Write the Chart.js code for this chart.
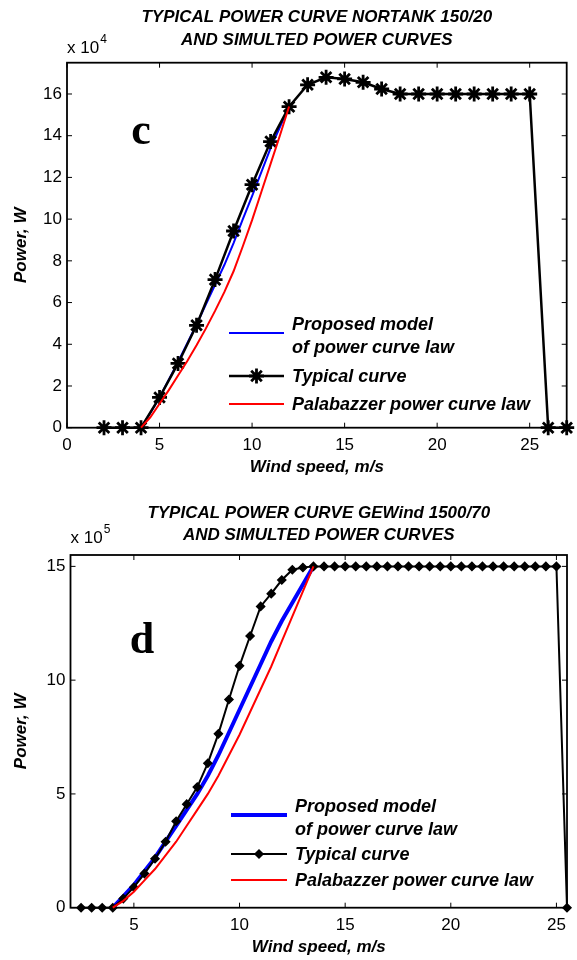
<!DOCTYPE html>
<html>
<head>
<meta charset="utf-8">
<script src="https://cdn.jsdelivr.net/npm/chart.js@4.4.1/dist/chart.umd.min.js"></script>
<style>
  html, body { margin: 0; padding: 0; background: #fff; }
  .panel { position: relative; width: 577px; height: 480px; }
  canvas { display: block; }
</style>
</head>
<body>
<div class="panel"><canvas id="chartC" width="577" height="480"></canvas></div>
<div class="panel"><canvas id="chartD" width="577" height="480"></canvas></div>
<script>
// ---- panel c : NORTANK 150/20 (power in x 10^4 W) ----
const windC = [2, 3, 4, 5, 6, 7, 8, 9, 10, 11, 12, 13, 14, 15, 16, 17, 18, 19, 20, 21, 22, 23, 24, 25, 26, 27];
const typicalC = [0, 0, 0, 1.45, 3.08, 4.91, 7.1, 9.43, 11.65, 13.72, 15.39, 16.44, 16.8, 16.72, 16.56, 16.24, 16.0, 16, 16, 16, 16, 16, 16, 16, 0, 0];
const windModelC = [4, 4.5, 5, 5.5, 6, 6.5, 7, 7.5, 8, 8.5, 9, 9.5, 10, 10.5, 11, 11.5, 12];
const proposedC = [0, 0.7, 1.45, 2.3, 3.15, 4.05, 4.95, 5.9, 6.85, 7.8, 8.85, 10.0, 11.1, 12.25, 13.4, 14.4, 15.4];
const palabazzerC = [0, 0.5, 1.15, 1.8, 2.5, 3.2, 3.95, 4.75, 5.6, 6.5, 7.5, 8.7, 9.95, 11.3, 12.65, 14.0, 15.4];
const xTicksC = [0, 5, 10, 15, 20, 25];
const yTicksC = [0, 2, 4, 6, 8, 10, 12, 14, 16];

// ---- panel d : GEWind 1500/70 (power in x 10^5 W) ----
const windD = [2.5, 3, 3.5, 4, 4.5, 5, 5.5, 6, 6.5, 7, 7.5, 8, 8.5, 9, 9.5, 10, 10.5, 11, 11.5, 12, 12.5, 13, 13.5,
  14, 14.5, 15, 15.5, 16, 16.5, 17, 17.5, 18, 18.5, 19, 19.5, 20, 20.5, 21, 21.5, 22, 22.5, 23, 23.5, 24, 24.5, 25, 25.5];
const typicalD = [0, 0, 0, 0, 0.4, 0.9, 1.5, 2.15, 2.9, 3.8, 4.55, 5.3, 6.35, 7.64, 9.15, 10.63, 11.94, 13.24, 13.8, 14.4, 14.85, 14.95, 15,
  15, 15, 15, 15, 15, 15, 15, 15, 15, 15, 15, 15, 15, 15, 15, 15, 15, 15, 15, 15, 15, 15, 15, 0];
const windModelD = [4, 4.5, 5, 5.5, 6, 6.5, 7, 7.5, 8, 8.5, 9, 9.5, 10, 10.5, 11, 11.5, 12, 12.5, 13, 13.5];
const proposedD = [0, 0.5, 1.0, 1.6, 2.2, 2.9, 3.6, 4.3, 5.0, 5.8, 6.7, 7.7, 8.7, 9.7, 10.7, 11.7, 12.6, 13.4, 14.2, 15.0];
const palabazzerD = [0, 0.3, 0.7, 1.2, 1.7, 2.3, 2.9, 3.6, 4.3, 5.0, 5.8, 6.7, 7.6, 8.6, 9.6, 10.6, 11.7, 12.8, 13.9, 15.0];
const xTicksD = [5, 10, 15, 20, 25];
const yTicksD = [0, 5, 10, 15];

const legendLabels = [['Proposed model', 'of power curve law'], ['Typical curve'], ['Palabazzer power curve law']];
const titleC = ['TYPICAL POWER CURVE NORTANK 150/20', 'AND SIMULTED POWER CURVES'];
const titleD = ['TYPICAL POWER CURVE GEWind 1500/70', 'AND SIMULTED POWER CURVES'];

const SANS = "'Liberation Sans', Arial, sans-serif";

function pts(xs, ys) {
    return xs.map((x, i) => ({ x: x, y: ys[i] }));
}

function line(ctx, x0, y0, x1, y1) {
    ctx.beginPath();
    ctx.moveTo(x0, y0);
    ctx.lineTo(x1, y1);
    ctx.stroke();
}

// matlab-like frame: box + inward ticks under the data, texts + legend on top
const matlabFrame = {
    id: 'matlabFrame',
    beforeDatasetsDraw(chart, args, p) {
        const { ctx, chartArea: a, scales: { x, y } } = chart;
        ctx.save();
        ctx.strokeStyle = '#000';
        ctx.lineWidth = 1;
        x.ticks.forEach(t => {
            const px = x.getPixelForValue(t.value);
            line(ctx, px, a.bottom, px, a.bottom - 5);
            line(ctx, px, a.top, px, a.top + 5);
        });
        y.ticks.forEach(t => {
            const py = y.getPixelForValue(t.value);
            line(ctx, a.left, py, a.left + 5, py);
            line(ctx, a.right, py, a.right - 5, py);
        });
        ctx.lineWidth = 1.8;
        ctx.strokeRect(a.left, a.top, a.right - a.left, a.bottom - a.top);
        ctx.restore();
    },
    afterDatasetsDraw(chart, args, p) {
        const { ctx, chartArea: a } = chart;
        const cx = (a.left + a.right) / 2;
        ctx.save();
        ctx.fillStyle = '#000';

        // title
        ctx.font = 'italic bold 17px ' + SANS;
        ctx.textAlign = 'center';
        ctx.textBaseline = 'middle';
        p.title.forEach((t, i) => ctx.fillText(t, cx, p.titleY[i]));

        // exponent
        ctx.textAlign = 'left';
        ctx.font = '17px ' + SANS;
        ctx.fillText('x 10', a.left, p.expY);
        const w = ctx.measureText('x 10').width;
        ctx.font = '12px ' + SANS;
        ctx.fillText(p.exponent, a.left + w + 1, p.expY - 8);

        // panel letter
        ctx.font = "bold 44px 'Liberation Serif', 'Times New Roman', serif";
        ctx.textAlign = 'center';
        ctx.fillText(p.letter, p.letterX, p.letterY);

        // legend
        const ds = chart.data.datasets;
        ctx.font = 'italic bold 18px ' + SANS;
        ctx.textAlign = 'left';
        p.legend.forEach((row, i) => {
            const d = ds[i];
            ctx.strokeStyle = d.borderColor;
            ctx.lineWidth = d.borderWidth;
            line(ctx, p.legendX0, row.lineY, p.legendX1, row.lineY);
            if (d.pointRadius > 0) {
                ctx.fillStyle = d.pointBackgroundColor;
                ctx.strokeStyle = d.pointBorderColor;
                ctx.lineWidth = d.pointBorderWidth;
                Chart.helpers.drawPoint(ctx, { pointStyle: d.pointStyle, radius: d.pointRadius, borderWidth: d.pointBorderWidth, rotation: 0 },
                    (p.legendX0 + p.legendX1) / 2, row.lineY);
            }
            ctx.fillStyle = '#000';
            legendLabels[i].forEach((t, k) => ctx.fillText(t, p.legendTextX, row.textY + k * 23));
        });
        ctx.restore();
    }
};

function makeChart(id, data, p) {
    return new Chart(document.getElementById(id), {
        type: 'line',
        data: { datasets: data },
        options: {
            responsive: false,
            animation: false,
            layout: { padding: { top: p.top, right: 10, bottom: 0, left: 0 } },
            plugins: {
                legend: { display: false },
                tooltip: { enabled: false },
                matlabFrame: p
            },
            scales: {
                x: {
                    type: 'linear',
                    min: p.xMin,
                    max: p.xMax,
                    afterBuildTicks: s => { s.ticks = p.xTicks.map(v => ({ value: v })); },
                    afterFit: s => { s.height = 480 - p.bottom; },
                    grid: { display: false, drawTicks: false },
                    border: { display: false },
                    ticks: { color: '#000', font: { family: SANS, size: 17 }, padding: 7, maxRotation: 0 },
                    title: {
                        display: true, text: 'Wind speed, m/s', color: '#000',
                        font: { family: SANS, size: 17, weight: 'bold', style: 'italic' },
                        padding: { top: 0, bottom: 2.5 }
                    }
                },
                y: {
                    type: 'linear',
                    min: 0,
                    max: p.yMax,
                    afterBuildTicks: s => { s.ticks = p.yTicks.map(v => ({ value: v })); },
                    afterFit: s => { s.width = p.left; },
                    grid: { display: false, drawTicks: false },
                    border: { display: false },
                    ticks: { color: '#000', font: { family: SANS, size: 17 }, padding: 5 },
                    title: {
                        display: true, text: 'Power, W', color: '#000',
                        font: { family: SANS, size: 17, weight: 'bold', style: 'italic' },
                        padding: { top: 11.5, bottom: 0 }
                    }
                }
            }
        },
        plugins: [matlabFrame]
    });
}

makeChart('chartC', [
    { label: 'Proposed model of power curve law', data: pts(windModelC, proposedC), borderColor: '#0000ff', borderWidth: 2,
      pointRadius: 0, tension: 0, order: 2, clip: false },
    { label: 'Typical curve', data: pts(windC, typicalC), borderColor: '#000', borderWidth: 2.5,
      pointStyle: 'star', pointRadius: 7.5, pointBorderWidth: 2.8, pointBorderColor: '#000', pointBackgroundColor: '#000',
      tension: 0, order: 1, clip: false },
    { label: 'Palabazzer power curve law', data: pts(windModelC, palabazzerC), borderColor: '#ff0000', borderWidth: 2,
      pointRadius: 0, tension: 0, order: 0, clip: false }
], {
    xMin: 0, xMax: 27, yMax: 17.5, xTicks: xTicksC, yTicks: yTicksC,
    top: 62.7, bottom: 427.7, left: 67,
    title: titleC, titleY: [17, 40], exponent: '4', expY: 48,
    letter: 'c', letterX: 141, letterY: 133,
    legendX0: 229, legendX1: 284, legendTextX: 292,
    legend: [{ lineY: 333, textY: 325 }, { lineY: 376, textY: 377 }, { lineY: 404, textY: 405 }]
});

makeChart('chartD', [
    { label: 'Proposed model of power curve law', data: pts(windModelD, proposedD), borderColor: '#0000ff', borderWidth: 4,
      pointRadius: 0, tension: 0, order: 2, clip: false },
    { label: 'Typical curve', data: pts(windD, typicalD), borderColor: '#000', borderWidth: 2,
      pointStyle: 'rectRot', pointRadius: 4, pointBorderWidth: 1.5, pointBorderColor: '#000', pointBackgroundColor: '#000',
      tension: 0, order: 1, clip: false },
    { label: 'Palabazzer power curve law', data: pts(windModelD, palabazzerD), borderColor: '#ff0000', borderWidth: 2,
      pointRadius: 0, tension: 0, order: 0, clip: false }
], {
    xMin: 2, xMax: 25.5, yMax: 15.5, xTicks: xTicksD, yTicks: yTicksD,
    top: 75, bottom: 427.7, left: 70.5,
    title: titleD, titleY: [33, 55], exponent: '5', expY: 58,
    letter: 'd', letterX: 142, letterY: 162,
    legendX0: 231, legendX1: 287, legendTextX: 295,
    legend: [{ lineY: 335, textY: 327 }, { lineY: 374, textY: 375 }, { lineY: 400, textY: 401 }]
});
</script>
</body>
</html>
